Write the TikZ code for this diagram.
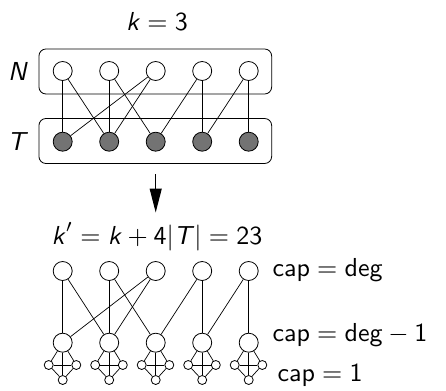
\documentclass[tikz,border=0pt]{standalone}
\usetikzlibrary{arrows.meta}
\newcommand{\sv}[1]{\textsf{\textit{#1}}}
\newcommand{\su}[1]{\textsf{#1}}
\definecolor{tfill}{gray}{0.45}
\begin{document}
\begin{tikzpicture}[x=1pt,y=-1pt,
  vn/.style={circle,draw,line width=0.8pt,minimum size=19pt,inner sep=0pt,fill=white},
  tn/.style={vn,fill=tfill},
  sn/.style={circle,draw,line width=0.8pt,minimum size=9pt,inner sep=0pt,fill=white},
  grp/.style={draw,line width=0.8pt,rounded corners=7pt,minimum width=232.7pt,minimum height=45pt,inner sep=0pt},
  lbl/.style={scale=2.6,inner sep=0pt},
  ed/.style={line width=0.7pt}]
\useasboundingbox (0,0) rectangle (446,390);
% top part
\node[lbl] (k) at (157,22) {$\sv{k} = \su{3}$};
\node[grp] (Nbox) at (155.3,71.5) {};
\node[grp] (Tbox) at (155.3,141) {};
\node[lbl] (Nl) at (18,71) {$\sv{N}$};
\node[lbl] (Tl) at (18,142) {$\sv{T}$};
\foreach \i in {1,...,5} {
  \node[vn] (n\i) at ({62.7+46.5*(\i-1)},71) {};
  \node[tn] (t\i) at ({62.7+46.5*(\i-1)},141.7) {};
}
\foreach \a/\b in {1/1,1/2,2/2,2/3,3/1,3/2,4/3,4/4,5/4,5/5}
  \draw[ed] (n\a) -- (t\b);
% arrow
\coordinate (a1) at (155.7,174);
\coordinate (a2) at (155.7,212.5);
\draw[line width=1.2pt,-{Triangle[length=24pt,width=12pt]}] (a1) -- (a2);
% bottom part
\node[lbl] (kp) at (157,237) {$\sv{k}' = \sv{k} + \su{4}|\sv{T}| = \su{23}$};
\foreach \i in {1,...,5} {
  \pgfmathsetmacro{\xx}{62.7+46.5*(\i-1)}
  \node[vn] (u\i) at (\xx,271) {};
  \node[vn] (m\i) at (\xx,342.7) {};
  \node[sn] (l\i) at (\xx-14,365) {};
  \node[sn] (r\i) at (\xx+13.6,365) {};
  \node[sn] (b\i) at (\xx,380) {};
  \draw[ed] (m\i) -- (l\i);
  \draw[ed] (m\i) -- (r\i);
  \draw[ed] (m\i) -- (b\i);
  \draw[ed] (l\i) -- (r\i);
  \draw[ed] (l\i) -- (b\i);
  \draw[ed] (r\i) -- (b\i);
}
\foreach \a/\b in {1/1,1/2,2/2,2/3,3/1,3/2,4/3,4/4,5/4,5/5}
  \draw[ed] (u\a) -- (m\b);
\node[lbl,anchor=west] (c1) at (272,270) {$\su{cap} = \su{deg}$};
\node[lbl,anchor=west] (c2) at (272,335) {$\su{cap} = \su{deg} - \su{1}$};
\node[lbl,anchor=west] (c3) at (277,375) {$\su{cap} = \su{1}$};
\end{tikzpicture}
\end{document}
